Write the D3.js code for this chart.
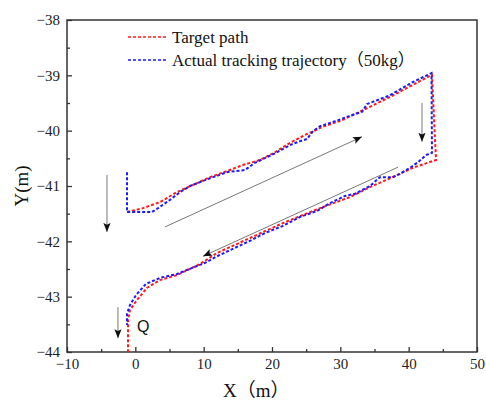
<!DOCTYPE html>
<html>
<head>
<meta charset="utf-8">
<script src="https://cdn.jsdelivr.net/npm/d3@7"></script>
<style>
  body { margin: 0; background: #fff; }
  svg { display: block; }
</style>
</head>
<body>
<svg id="chart" width="486" height="400"></svg>
<script>
// target path (X, Y in metres), walked from the upper-left corner
var targetX = [-1.22, 1.12, 3.61, 6.10, 8.44, 10.93, 13.41, 15.76, 18.24, 20.44, 22.63, 25.12, 27.46, 30.24, 33.32, 37.27, 40.63, 43.41,
  44.00, 40.63, 37.27, 34.34, 31.41, 26.59, 21.61, 16.78, 11.95, 9.46, 6.10, 3.61, 1.71, 0.24, -0.78, -1.07, -1.07];
var targetY = [-41.47, -41.40, -41.29, -41.11, -40.98, -40.84, -40.73, -40.62, -40.53, -40.39, -40.22, -40.06, -39.93, -39.81, -39.63, -39.39, -39.17, -38.99,
  -40.53, -40.67, -40.86, -41.02, -41.20, -41.42, -41.67, -41.94, -42.21, -42.41, -42.61, -42.70, -42.84, -43.06, -43.24, -43.42, -44.00];

// actual tracking trajectory (50kg)
var actualX = [-1.22, -1.22, 2.44, 3.32, 5.07, 6.54, 8.00, 10.93, 13.41, 16.05, 17.51, 20.44, 22.63, 24.10, 25.12, 26.00, 27.03, 29.22, 31.41, 33.17, 33.90, 37.27, 40.63, 43.34,
  43.41, 42.54, 41.37, 40.20, 38.73, 37.71, 35.80, 34.34, 32.15, 30.68, 28.49, 26.59, 24.10, 21.61, 18.98, 16.78, 13.85, 11.95, 10.20, 8.73, 6.10, 3.61, 1.56, 0.10, -0.78, -1.22, -1.22];
var actualY = [-40.75, -41.47, -41.47, -41.40, -41.25, -41.11, -41.00, -40.86, -40.75, -40.71, -40.58, -40.41, -40.26, -40.19, -40.15, -40.01, -39.92, -39.83, -39.73, -39.66, -39.52, -39.36, -39.12, -38.96,
  -40.40, -40.44, -40.57, -40.67, -40.78, -40.84, -40.84, -41.00, -41.14, -41.18, -41.31, -41.45, -41.56, -41.72, -41.85, -41.99, -42.16, -42.27, -42.39, -42.46, -42.59, -42.66, -42.77, -42.97, -43.15, -43.31, -43.51];

// direction arrows [x1, y1, x2, y2]
var arrows = [
  [-4.15, -40.80, -4.15, -41.83],
  [-2.54, -43.19, -2.54, -43.75],
  [41.95, -39.50, 41.95, -40.20],
  [4.34, -41.74, 33.17, -40.11],
  [38.44, -40.66, 9.90, -42.27]
];

var xTicks = [-10, 0, 10, 20, 30, 40, 50];
var yTicks = [-44, -43, -42, -41, -40, -39, -38];
var seriesNames = ["Target path", "Actual tracking trajectory\uFF0850kg\uFF09"];

var svg = d3.select("#chart");
var margin = {left: 67, right: 9, top: 20, bottom: 48};
var width = 486 - margin.left - margin.right;
var height = 400 - margin.top - margin.bottom;
var serif = "'Liberation Serif', 'Times New Roman', 'Noto Sans CJK SC', serif";
var fmt = d3.format("d");

var x = d3.scaleLinear().domain([-10, 50]).range([0, width]);
var y = d3.scaleLinear().domain([-44, -38]).range([height, 0]);

var g = svg.append("g")
  .attr("transform", "translate(" + margin.left + "," + margin.top + ")");

// minor ticks
g.append("g")
  .attr("transform", "translate(0," + height + ")")
  .call(d3.axisBottom(x).tickValues(d3.range(-5, 50, 10)).tickSize(-3).tickFormat(""))
  .call(a => a.select(".domain").remove());
g.append("g")
  .call(d3.axisLeft(y).tickValues(d3.range(-43.5, -38, 1)).tickSize(-3).tickFormat(""))
  .call(a => a.select(".domain").remove());

// major ticks
var xAxis = g.append("g")
  .attr("transform", "translate(0," + height + ")")
  .call(d3.axisBottom(x).tickValues(xTicks).tickSize(-5).tickPadding(6).tickFormat(fmt));
var yAxis = g.append("g")
  .call(d3.axisLeft(y).tickValues(yTicks).tickSize(-5).tickPadding(7).tickFormat(fmt));

[xAxis, yAxis].forEach(function(a) {
  a.select(".domain").remove();
  a.selectAll("text")
    .style("font-family", serif)
    .style("font-size", "15px")
    .attr("fill", "#222");
});
g.selectAll(".tick line").attr("stroke", "#333").attr("stroke-width", 1.3);

// frame
g.append("rect")
  .attr("width", width)
  .attr("height", height)
  .attr("fill", "none")
  .attr("stroke", "#333")
  .attr("stroke-width", 1.5);

// arrows
svg.append("defs").append("marker")
  .attr("id", "head")
  .attr("viewBox", "0 0 10 10")
  .attr("refX", 10)
  .attr("refY", 5)
  .attr("markerWidth", 9)
  .attr("markerHeight", 9)
  .attr("markerUnits", "userSpaceOnUse")
  .attr("orient", "auto")
  .append("path")
  .attr("d", "M0,1 L10,5 L0,9 L2,5 Z")
  .attr("fill", "#111");

g.selectAll(".arrow")
  .data(arrows)
  .enter().append("line")
  .attr("class", "arrow")
  .attr("x1", d => x(d[0]))
  .attr("y1", d => y(d[1]))
  .attr("x2", d => x(d[2]))
  .attr("y2", d => y(d[3]))
  .attr("stroke", "#777")
  .attr("stroke-width", 1)
  .attr("marker-end", "url(#head)");

// paths
var line = d3.line()
  .x(d => x(d[0]))
  .y(d => y(d[1]));

var target = d3.zip(targetX, targetY);
var actual = d3.zip(actualX, actualY);

g.append("path")
  .datum(target)
  .attr("d", line)
  .attr("fill", "none")
  .attr("stroke", "#ff1a1a")
  .attr("stroke-width", 2)
  .attr("stroke-dasharray", "3,2");

g.append("path")
  .datum(actual)
  .attr("d", line)
  .attr("fill", "none")
  .attr("stroke", "#1a1aff")
  .attr("stroke-width", 2)
  .attr("stroke-dasharray", "3,2");

// Q label
g.append("text")
  .attr("x", x(0.24))
  .attr("y", y(-43.64))
  .style("font-family", "'Liberation Sans', Arial, sans-serif")
  .style("font-size", "16px")
  .attr("fill", "#111")
  .text("Q");

// legend
var legend = svg.append("g");
var colors = ["#ff1a1a", "#1a1aff"];
seriesNames.forEach(function(name, i) {
  var yy = 37 + i * 23;
  legend.append("line")
    .attr("x1", 128).attr("x2", 166)
    .attr("y1", yy).attr("y2", yy)
    .attr("stroke", colors[i])
    .attr("stroke-width", 1.5)
    .attr("stroke-dasharray", "3,2");
  legend.append("text")
    .attr("x", 172)
    .attr("y", yy + 6)
    .style("font-family", serif)
    .style("font-size", "17px")
    .attr("fill", "#111")
    .text(name);
});

// axis titles
svg.append("text")
  .attr("x", 223)
  .attr("y", 397)
  .style("font-family", serif)
  .style("font-size", "19px")
  .attr("fill", "#111")
  .text("X\uFF08m\uFF09");

svg.append("text")
  .attr("transform", "translate(28,186) rotate(-90)")
  .attr("text-anchor", "middle")
  .style("font-family", serif)
  .style("font-size", "19px")
  .attr("fill", "#111")
  .text("Y(m)");
</script>
</body>
</html>
